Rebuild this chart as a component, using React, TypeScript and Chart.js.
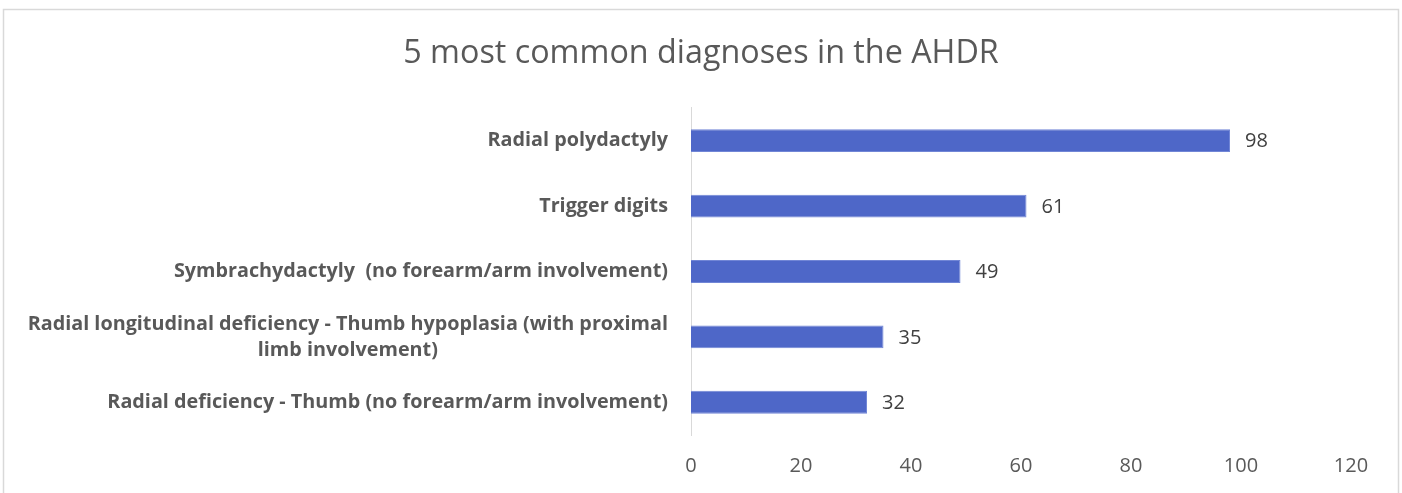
import React, { useEffect, useRef } from 'react';
import { Chart, registerables } from 'chart.js';

Chart.register(...registerables);

const chartTitle = '5 most common diagnoses in the AHDR';
const categories: (string | string[])[] = [
  'Radial polydactyly',
  'Trigger digits',
  'Symbrachydactyly  (no forearm/arm involvement)',
  ['Radial longitudinal deficiency - Thumb hypoplasia (with proximal', 'limb involvement)'],
  'Radial deficiency - Thumb (no forearm/arm involvement)',
];
const values = [98, 61, 49, 35, 32];
const xMin = 0;
const xMax = 120;
const xStep = 20;

const FONT = "'Open Sans', 'Liberation Sans', sans-serif";

const decorPlugin = {
  id: 'decor',
  afterDraw(chart: any) {
    const ctx = chart.ctx as CanvasRenderingContext2D;
    const yScale = chart.scales.y;
    ctx.save();
    // frame
    ctx.strokeStyle = '#d9d9d9';
    ctx.lineWidth = 1.5;
    ctx.strokeRect(3.5, 9.5, 1395, 500);

    // category labels
    ctx.fillStyle = '#595959';
    ctx.font = `bold 19.8px ${FONT}`;
    ctx.textBaseline = 'middle';
    const rightX = 668;
    const lineH = 26;
    categories.forEach((lab, i) => {
      const y = yScale.getPixelForValue(i);
      if (Array.isArray(lab)) {
        const widest = Math.max(...lab.map((l) => ctx.measureText(l).width));
        const cx = rightX - widest / 2;
        ctx.textAlign = 'center';
        const y0 = y - ((lab.length - 1) * lineH) / 2;
        lab.forEach((l, k) => ctx.fillText(l, cx, y0 + k * lineH));
      } else {
        ctx.textAlign = 'right';
        ctx.fillText(lab, rightX, y);
      }
    });

    // value labels
    const meta = chart.getDatasetMeta(0);
    ctx.fillStyle = '#404040';
    ctx.font = `20px ${FONT}`;
    ctx.textAlign = 'left';
    meta.data.forEach((bar: any, i: number) => {
      ctx.fillText(String(values[i]), bar.x + 15, bar.y + 1);
    });
    ctx.restore();
  },
};

export default function App() {
  const ref = useRef<HTMLCanvasElement | null>(null);
  useEffect(() => {
    document.body.style.margin = '0';
    const canvas = ref.current;
    if (!canvas) return;
    const chart = new Chart(canvas, {
      type: 'bar',
      data: {
        labels: categories.map((c) => (Array.isArray(c) ? c.join(' ') : c)),
        datasets: [
          {
            data: values,
            backgroundColor: '#4e67c8',
            borderColor: '#7186d6',
            borderWidth: 1,
            barPercentage: 0.35,
            categoryPercentage: 1,
          },
        ],
      },
      options: {
        indexAxis: 'y',
        animation: false,
        responsive: false,
        maintainAspectRatio: false,
        layout: { padding: { left: 51, right: 51, top: 0, bottom: 0 } },
        plugins: {
          legend: { display: false },
          tooltip: { enabled: false },
          title: {
            display: true,
            text: chartTitle,
            color: '#595959',
            font: { family: FONT, size: 32.3, weight: 'normal' },
            padding: { top: 34, bottom: 35.2 },
          },
        },
        scales: {
          x: {
            min: xMin,
            max: xMax,
            grid: { display: false, drawTicks: false },
            border: { display: false },
            ticks: {
              stepSize: xStep,
              color: '#595959',
              font: { family: FONT, size: 20 },
              padding: 19,
            },
            afterFit: (s: any) => {
              s.height = 58;
            },
          },
          y: {
            grid: { display: false, drawTicks: false },
            border: { display: true, color: '#d9d9d9', width: 1 },
            ticks: { display: false },
            afterFit: (s: any) => {
              s.width = 640;
            },
          },
        },
      },
      plugins: [decorPlugin],
    });
    return () => chart.destroy();
  }, []);
  return (
    <div style={{ width: 1402, height: 493, background: '#fff' }}>
      <canvas ref={ref} width={1402} height={493} />
    </div>
  );
}
